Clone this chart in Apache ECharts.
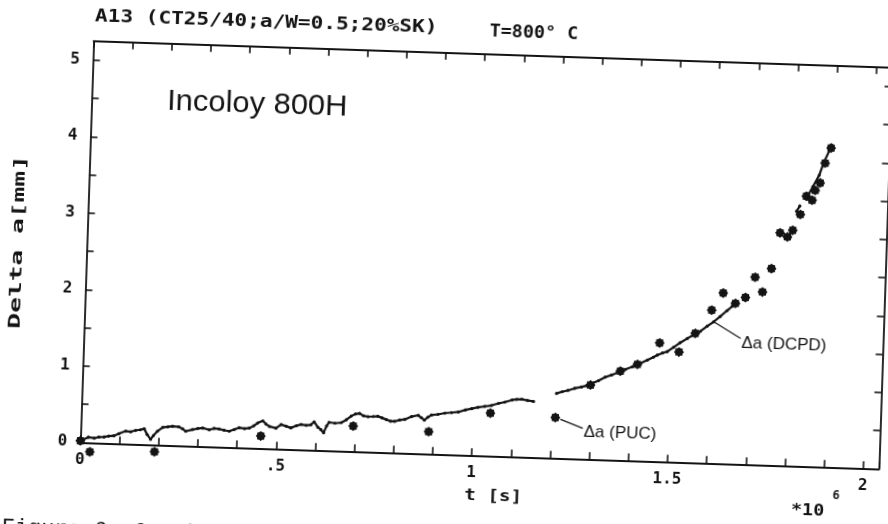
<!DOCTYPE html>
<html><head><meta charset="utf-8">
<script src="https://cdn.jsdelivr.net/npm/echarts@6/dist/echarts.min.js"></script>
<style>
html,body{margin:0;padding:0;width:888px;height:524px;overflow:hidden;background:#fff;}
#chart{position:absolute;left:-30px;top:-30px;width:948px;height:584px;transform:rotate(1.9deg);transform-origin:50% 50%;}
</style></head><body><div id="chart"></div>
<script>
// ---- data (t in 10^6 s, delta a in mm) ----
const dcpdT = [0.000,0.004,0.020,0.035,0.047,0.060,0.072,0.085,0.098,0.115,0.128,0.140,0.152,0.162,0.170,0.179,0.186,0.196,0.209,0.222,0.234,0.250,0.260,0.268,0.285,0.298,0.311,0.328,0.340,0.353,0.366,0.379,0.392,0.404,0.418,0.430,0.441,0.451,0.464,0.472,0.481,0.498,0.511,0.524,0.536,0.550,0.562,0.575,0.587,0.595,0.605,0.613,0.620,0.627,0.633,0.648,0.664,0.677,0.689,0.700,0.710,0.720,0.732,0.745,0.757,0.768,0.779,0.790,0.800,0.813,0.826,0.843,0.860,0.868,0.876,0.885,0.894,0.910,0.928,0.945,0.962,0.980,0.996,1.012,1.029,1.046,1.064,1.080,1.098,1.110,1.123,1.138,1.153,null,1.211,1.225,1.240,1.257,1.274,1.287,1.300,1.317,1.334,1.350,1.368,1.385,1.402,1.420,1.440,1.455,1.465,1.478,1.490,1.506,1.522,1.540,1.556,1.573,1.590,1.606,1.622,1.639,1.652,1.664,null,1.808,1.816,null,1.834,1.848,1.863,1.873,1.887,1.892];
const dcpdA = [0.02,0.04,0.07,0.06,0.077,0.08,0.094,0.10,0.13,0.166,0.16,0.18,0.19,0.205,0.13,0.07,0.12,0.18,0.23,0.24,0.25,0.245,0.22,0.19,0.215,0.23,0.24,0.22,0.24,0.235,0.22,0.21,0.235,0.26,0.25,0.26,0.29,0.33,0.36,0.32,0.29,0.27,0.32,0.30,0.28,0.31,0.33,0.32,0.33,0.37,0.30,0.27,0.23,0.32,0.37,0.36,0.37,0.41,0.46,0.49,0.50,0.47,0.46,0.465,0.47,0.45,0.43,0.41,0.41,0.43,0.44,0.48,0.50,0.47,0.44,0.48,0.51,0.52,0.54,0.55,0.56,0.59,0.61,0.63,0.645,0.66,0.69,0.71,0.74,0.75,0.755,0.74,0.73,null,0.845,0.87,0.89,0.92,0.94,0.96,0.99,1.03,1.08,1.11,1.15,1.19,1.225,1.27,1.32,1.36,1.39,1.42,1.44,1.50,1.56,1.62,1.67,1.72,1.79,1.85,1.92,2.00,2.06,2.11,null,3.33,3.40,null,3.52,3.66,3.81,3.97,4.14,4.21];
const pucT = [0.000,0.025,0.190,0.460,0.695,0.888,1.044,1.210,1.297,1.372,1.415,1.470,1.520,1.560,1.600,1.628,1.660,1.685,1.708,1.728,1.749,1.768,1.787,1.800,1.818,1.832,1.847,1.854,1.866,1.877,1.891];
const pucA = [0.02,-0.12,-0.09,0.16,0.33,0.29,0.56,0.53,0.97,1.165,1.26,1.55,1.44,1.69,2.00,2.23,2.10,2.18,2.45,2.26,2.57,3.04,2.99,3.08,3.29,3.53,3.48,3.61,3.71,3.97,4.17];
const xLabelValues = [0, 0.5, 1, 1.5, 2];
const xLabelTexts = ['0', '.5', '1', '1.5', '2'];
const yLabelValues = [0, 1, 2, 3, 4, 5];
const yLabelTexts = ['0', '1', '2', '3', '4', '5'];
const dcpdLeader = [[1.606, 1.85], [1.676, 1.645]];
const pucLeader = [[1.223, 0.51], [1.281, 0.40]];

const INK = '#141414';
const MONO = '"DejaVu Sans Mono", "Liberation Mono", monospace';
const SANS = '"Liberation Sans", "DejaVu Sans", sans-serif';
const STAR = 'path://M20,10L17.4,13.1L17.07,17.07L13.1,17.4L10,20L6.9,17.4L2.93,17.07L2.6,13.1L0,10L2.6,6.9L2.93,2.93L6.9,2.6L10,0L13.1,2.6L17.07,2.93L17.4,6.9Z';

function pick(vals, texts) {
  return function (v) {
    for (let i = 0; i < vals.length; i++) if (Math.abs(v - vals[i]) < 1e-6) return texts[i];
    return '';
  };
}
const dcpdData = dcpdT.map((t, i) => (t === null ? ['-', '-'] : [t, dcpdA[i]]));
const pucData = pucT.map((t, i) => [t, pucA[i]]);

const tickLabel = {fontFamily: MONO, fontSize: 16, fontWeight: 'bold', color: INK};
function xAx(pos, labels) {
  return {
    type: 'value', position: pos, min: 0, max: 2.04, interval: 0.1,
    axisLine: {show: true, onZero: false, lineStyle: {color: INK, width: 1.8}},
    axisTick: {show: true, inside: true, length: 7, lineStyle: {color: INK, width: 1.6}},
    axisLabel: labels ? Object.assign({show: true, margin: 10, formatter: pick(xLabelValues, xLabelTexts)}, tickLabel) : {show: false},
    splitLine: {show: false}
  };
}
function yAx(pos, labels) {
  return {
    type: 'value', position: pos, min: 0, max: 5.25, interval: 0.5,
    axisLine: {show: true, onZero: false, lineStyle: {color: INK, width: 1.8}},
    axisTick: {show: true, inside: true, length: 7, lineStyle: {color: INK, width: 1.6}},
    axisLabel: labels ? Object.assign({show: true, margin: 13, formatter: pick(yLabelValues, yLabelTexts)}, tickLabel) : {show: false},
    splitLine: {show: false}
  };
}

const chart = echarts.init(document.getElementById('chart'), null, {renderer: 'canvas'});
chart.setOption({
  animation: false,
  backgroundColor: '#fff',
  grid: {left: 116.5, top: 82.7, width: 799, height: 401.6},
  xAxis: [xAx('bottom', true), xAx('top', false)],
  yAxis: [yAx('left', true), yAx('right', false)],
  series: [
    {
      name: 'Δa (DCPD)', type: 'line', data: dcpdData, connectNulls: false, clip: false,
      symbol: 'circle', symbolSize: 3.2, showSymbol: true,
      lineStyle: {color: INK, width: 2.2}, itemStyle: {color: INK, opacity: 1}
    },
    {
      name: 'Δa (PUC)', type: 'scatter', data: pucData, clip: false,
      symbol: STAR, symbolSize: 10, itemStyle: {color: INK, opacity: 1}
    },
    {
      type: 'line', data: dcpdLeader, symbol: 'none', clip: false,
      lineStyle: {color: INK, width: 1.3},
      endLabel: {show: true, formatter: 'Δa (DCPD)', fontFamily: SANS, fontSize: 17, color: INK, distance: 1, offset: [0, 5]}
    },
    {
      type: 'line', data: pucLeader, symbol: 'none', clip: false,
      lineStyle: {color: INK, width: 1.3},
      endLabel: {show: true, formatter: 'Δa (PUC)', fontFamily: SANS, fontSize: 17, color: INK, distance: 1, offset: [0, 4]}
    }
  ],
  graphic: [
    {type: 'text', x: 117, y: 58.5, scaleX: 1.24, style: {text: 'A13 (CT25/40;a/W=0.5;20%SK)', font: 'bold 17px ' + MONO, fill: INK, align: 'left', verticalAlign: 'middle'}},
    {type: 'text', x: 512, y: 60.6, scaleX: 1.08, style: {text: 'T=800° C', font: 'bold 17px ' + MONO, fill: INK, align: 'left', verticalAlign: 'middle'}},
    {type: 'text', x: 192, y: 141, scaleX: 1.03, style: {text: 'Incoloy 800H', font: '30px ' + SANS, fill: INK, align: 'left', verticalAlign: 'middle'}},
    {type: 'text', x: 47.8, y: 286, rotation: Math.PI / 2, scaleX: 1.75, style: {text: 'Delta a[mm]', font: 'bold 15px ' + MONO, fill: INK, align: 'center', verticalAlign: 'middle'}},
    {type: 'text', x: 531, y: 525.3, scaleX: 1.2, style: {text: 't [s]', font: 'bold 16px ' + MONO, fill: INK, align: 'center', verticalAlign: 'middle'}},
    {type: 'text', x: 829, y: 528.4, scaleX: 1.15, style: {text: '*10', font: 'bold 16px ' + MONO, fill: INK, align: 'left', verticalAlign: 'middle'}},
    {type: 'text', x: 870, y: 513, style: {text: '6', font: 'bold 12px ' + MONO, fill: INK, align: 'left', verticalAlign: 'middle'}},
    {type: 'text', x: 40.7, y: 561.5, style: {text: 'Figure 6. Crack growth', font: '22px "Liberation Mono", monospace', fill: INK, align: 'left', verticalAlign: 'top'}}
  ]
});
</script></body></html>
